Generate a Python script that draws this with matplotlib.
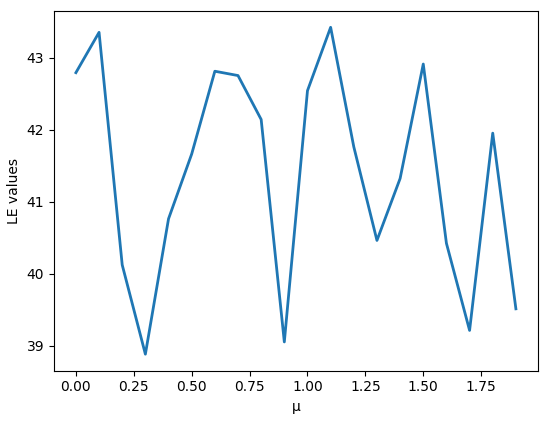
import matplotlib
matplotlib.use("Agg")
import matplotlib.pyplot as plt
import numpy as np

mu = [0.0, 0.1, 0.2, 0.3, 0.4, 0.5, 0.6, 0.7, 0.8, 0.9,
      1.0, 1.1, 1.2, 1.3, 1.4, 1.5, 1.6, 1.7, 1.8, 1.9]
le_values = [42.79, 43.35, 40.12, 38.88, 40.76, 41.66, 42.81, 42.75, 42.14, 39.05,
             42.54, 43.42, 41.76, 40.46, 41.32, 42.91, 40.42, 39.21, 41.95, 39.51]

fig = plt.figure(figsize=(5.5, 4.22), dpi=100)
ax = fig.add_axes([0.098, 0.122, 0.88, 0.852])
ax.plot(mu, le_values, color="#1f77b4", linewidth=2)
ax.set_xlabel("μ")
ax.set_ylabel("LE values")
ax.set_xticks([0.0, 0.25, 0.5, 0.75, 1.0, 1.25, 1.5, 1.75])
ax.set_yticks([39, 40, 41, 42, 43])
fig.savefig("out.png", dpi=100)
